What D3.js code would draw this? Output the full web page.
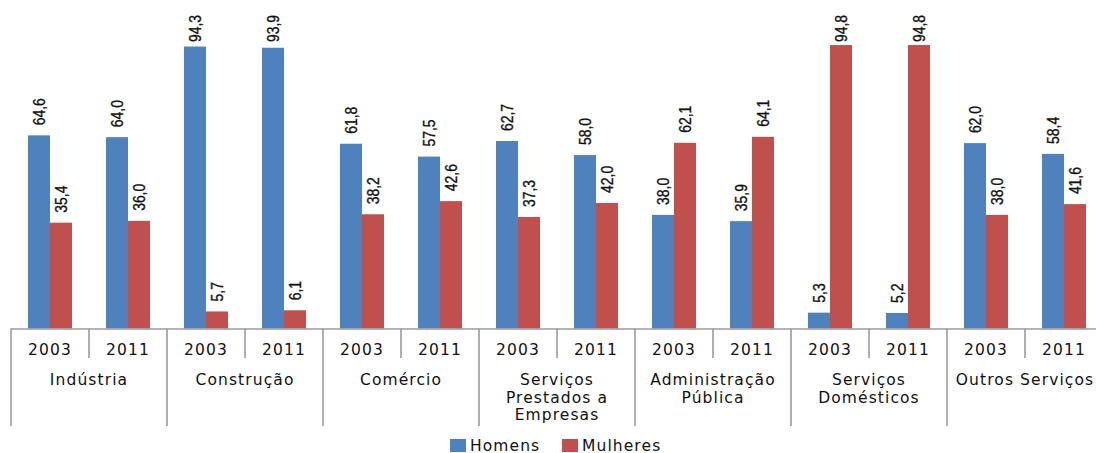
<!DOCTYPE html>
<html>
<head>
<meta charset="utf-8">
<script src="https://cdn.jsdelivr.net/npm/d3@7"></script>
<style>
  html, body { margin: 0; padding: 0; background: #fff; }
  svg { display: block; }
  .axis-text { font-family: "DejaVu Sans", sans-serif; font-size: 15.5px; fill: #111; letter-spacing: 1.1px; }
  .value { font-family: "Liberation Sans", Arial, sans-serif; font-size: 16px; fill: #111; stroke: #111; stroke-width: 0.35px; }
</style>
</head>
<body>
<svg id="chart" width="1096" height="453"></svg>
<script>
// Sectors, each split into two survey years
const sectors = [
  ["Indústria"],
  ["Construção"],
  ["Comércio"],
  ["Serviços", "Prestados a", "Empresas"],
  ["Administração", "Pública"],
  ["Serviços", "Domésticos"],
  ["Outros Serviços"]
];
const years = ["2003", "2011"];
const seriesNames = ["Homens", "Mulheres"];
const seriesColors = ["#4F81BD", "#C0504D"];

// Share (%) of men, one value per sector/year slot
const homens = [64.6, 64.0, 94.3, 93.9, 61.8, 57.5, 62.7, 58.0, 38.0, 35.9, 5.3, 5.2, 62.0, 58.4];
// Share (%) of women, one value per sector/year slot
const mulheres = [35.4, 36.0, 5.7, 6.1, 38.2, 42.6, 37.3, 42.0, 62.1, 64.1, 94.8, 94.8, 38.0, 41.6];

const slots = [];
sectors.forEach((s, i) => years.forEach((y, j) => slots.push({ sector: i, year: y, key: i + "-" + y })));

const svg = d3.select("#chart");
const left = 11, slotW = 78;
const baseY = 328.5;

const x0 = d3.scaleBand()
  .domain(slots.map(d => d.key))
  .range([left, left + slotW * slots.length])
  .paddingInner(0).paddingOuter(0);

const x1 = d3.scaleBand()
  .domain(seriesNames)
  .range([17, 61])
  .padding(0);

const y = d3.scaleLinear().domain([0, 100]).range([baseY, 29.5]);

const fmt = v => d3.format(".1f")(v).replace(".", ",");

const seriesValues = [homens, mulheres];

// Bars
seriesNames.forEach((name, si) => {
  svg.append("g")
    .selectAll("rect")
    .data(slots)
    .join("rect")
    .attr("x", d => x0(d.key) + x1(name))
    .attr("width", x1.bandwidth())
    .attr("y", (d, i) => y(seriesValues[si][i]))
    .attr("height", (d, i) => baseY - y(seriesValues[si][i]))
    .attr("fill", seriesColors[si]);

  // Rotated, condensed value labels above each bar (kept inside the top margin)
  svg.append("g")
    .selectAll("text")
    .data(slots)
    .join("text")
    .attr("class", "value")
    .attr("transform", (d, i) => {
      const cx = x0(d.key) + x1(name) + x1.bandwidth() / 2;
      const ty = Math.max(y(seriesValues[si][i]) - 10, 42);
      return `translate(${cx + 6},${ty}) rotate(-90) scale(0.87,1)`;
    })
    .attr("text-anchor", "start")
    .text((d, i) => fmt(seriesValues[si][i]));
});

// Category axis: baseline, year separators and sector separators
const axis = svg.append("g").attr("stroke", "#9a9a9a").attr("stroke-width", 1.6);
axis.append("line")
  .attr("x1", left).attr("x2", 1096)
  .attr("y1", baseY + 0.5).attr("y2", baseY + 0.5);

slots.forEach((d, i) => {
  const xPos = x0(d.key);
  const isSectorEdge = i % 2 === 0;
  axis.append("line")
    .attr("x1", xPos).attr("x2", xPos)
    .attr("y1", baseY).attr("y2", isSectorEdge ? 426 : 358);
});

// Year labels
svg.append("g")
  .selectAll("text")
  .data(slots)
  .join("text")
  .attr("class", "axis-text")
  .attr("x", d => x0(d.key) + slotW / 2)
  .attr("y", 355)
  .attr("text-anchor", "middle")
  .text(d => d.year);

// Sector labels (multi-line)
const sectorG = svg.append("g");
sectors.forEach((lines, i) => {
  const cx = left + slotW * 2 * i + slotW;
  const t = sectorG.append("text")
    .attr("class", "axis-text")
    .attr("text-anchor", "middle")
    .attr("x", cx)
    .attr("y", 385);
  lines.forEach((ln, k) => {
    t.append("tspan").attr("x", cx).attr("dy", k === 0 ? 0 : 17.5).text(ln);
  });
});

// Legend
const legendItems = [
  { name: "Homens", color: seriesColors[0], x: 450 },
  { name: "Mulheres", color: seriesColors[1], x: 562 }
];
const legend = svg.append("g");
legendItems.forEach(it => {
  legend.append("rect")
    .attr("x", it.x).attr("y", 439)
    .attr("width", 16).attr("height", 13)
    .attr("fill", it.color);
  legend.append("text")
    .attr("class", "axis-text")
    .attr("x", it.x + 20).attr("y", 450.5)
    .text(it.name);
});
</script>
</body>
</html>
